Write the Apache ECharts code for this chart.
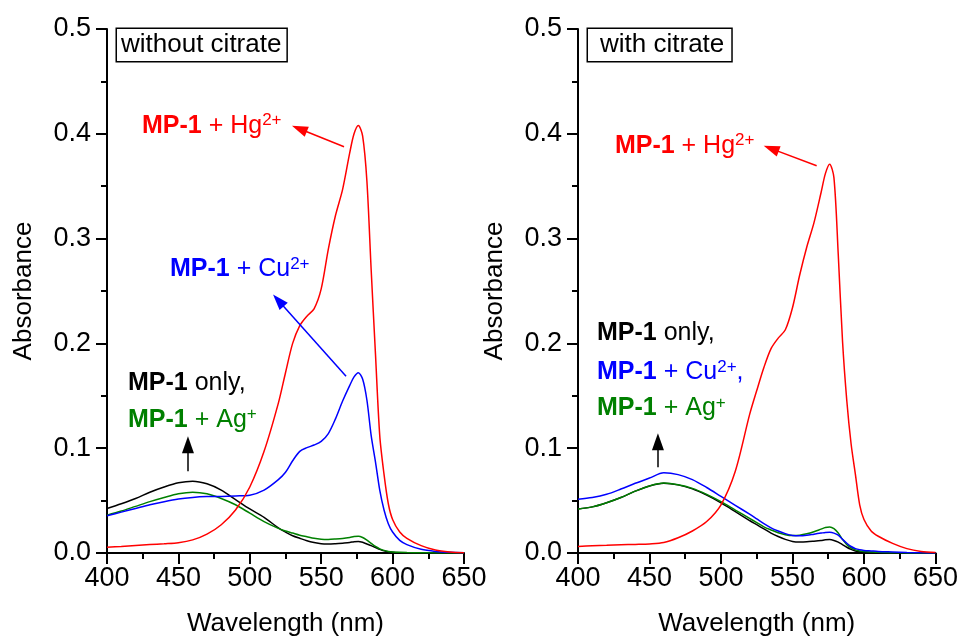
<!DOCTYPE html>
<html>
<head>
<meta charset="utf-8">
<script src="https://cdn.jsdelivr.net/npm/echarts@6/dist/echarts.min.js"></script>
<style>
  html, body { margin: 0; padding: 0; background: #fff; }
  #chart { width: 961px; height: 642px; }
</style>
</head>
<body>
<div id="chart"></div>
<script>
// Wavelength sampling grid (nm), shared by every spectrum
const wavelength = [400, 410, 420, 430, 440, 450, 460, 470, 480, 490, 500, 510, 520, 525, 530, 535, 540, 545, 550, 555, 560, 565, 570, 573, 576, 579, 582, 585, 588, 591, 594, 597, 600, 605, 610, 620, 630, 640, 650];

// Without citrate
const noCitOnly = [0.0425, 0.047, 0.052, 0.058, 0.063, 0.067, 0.0685, 0.066, 0.060, 0.051, 0.042, 0.034, 0.024, 0.020, 0.0165, 0.014, 0.0117, 0.0100, 0.0088, 0.0086, 0.0089, 0.0094, 0.0100, 0.0108, 0.0110, 0.0102, 0.0086, 0.0070, 0.0053, 0.0035, 0.0020, 0.0011, 0.0006, 0.0003, 0.0002, 0.0001, 0, 0, 0];
const noCitAg = [0.036, 0.040, 0.0445, 0.049, 0.053, 0.0565, 0.058, 0.0565, 0.052, 0.046, 0.038, 0.030, 0.0235, 0.021, 0.019, 0.017, 0.0155, 0.014, 0.0132, 0.013, 0.0133, 0.0138, 0.0148, 0.0157, 0.0160, 0.0148, 0.0122, 0.0092, 0.0063, 0.0040, 0.0025, 0.0015, 0.0010, 0.0006, 0.0004, 0.0002, 0.0001, 0, 0];
const noCitCu = [0.0356, 0.039, 0.0425, 0.046, 0.049, 0.0515, 0.053, 0.0538, 0.054, 0.0545, 0.0552, 0.060, 0.070, 0.077, 0.088, 0.097, 0.1005, 0.103, 0.1065, 0.114, 0.128, 0.145, 0.160, 0.168, 0.172, 0.166, 0.146, 0.112, 0.087, 0.060, 0.041, 0.028, 0.020, 0.012, 0.008, 0.0035, 0.0015, 0.0006, 0.0002];
const noCitHg = [0.0054, 0.0063, 0.0072, 0.008, 0.0088, 0.0098, 0.0125, 0.018, 0.027, 0.041, 0.063, 0.097, 0.143, 0.172, 0.200, 0.217, 0.226, 0.233, 0.252, 0.290, 0.322, 0.347, 0.382, 0.400, 0.408, 0.398, 0.355, 0.270, 0.190, 0.112, 0.075, 0.047, 0.032, 0.020, 0.014, 0.007, 0.0028, 0.001, 0.0003];

// With citrate
const citOnly = [0.042, 0.044, 0.048, 0.053, 0.059, 0.064, 0.0665, 0.065, 0.0612, 0.0552, 0.0478, 0.0395, 0.031, 0.027, 0.023, 0.019, 0.0158, 0.013, 0.011, 0.0105, 0.0107, 0.0113, 0.012, 0.0126, 0.0128, 0.012, 0.0104, 0.008, 0.0055, 0.0035, 0.002, 0.0012, 0.0008, 0.0005, 0.0003, 0.0001, 0, 0, 0];
const citAg = [0.042, 0.044, 0.048, 0.053, 0.059, 0.064, 0.0667, 0.0652, 0.0617, 0.056, 0.049, 0.041, 0.033, 0.029, 0.025, 0.022, 0.0193, 0.0175, 0.0167, 0.017, 0.0183, 0.0203, 0.0228, 0.0243, 0.0248, 0.0232, 0.019, 0.013, 0.008, 0.005, 0.003, 0.002, 0.0015, 0.001, 0.0006, 0.0003, 0.0001, 0, 0];
const citCu = [0.0514, 0.053, 0.056, 0.061, 0.0665, 0.0715, 0.0765, 0.0748, 0.070, 0.0625, 0.054, 0.0455, 0.037, 0.0325, 0.028, 0.024, 0.021, 0.0185, 0.0168, 0.0165, 0.017, 0.018, 0.019, 0.0196, 0.0197, 0.019, 0.017, 0.013, 0.0093, 0.0062, 0.0042, 0.0031, 0.0025, 0.002, 0.0015, 0.001, 0.0005, 0.0002, 0];
const citHg = [0.0063, 0.0068, 0.0073, 0.0078, 0.0082, 0.0087, 0.010, 0.0145, 0.021, 0.030, 0.046, 0.078, 0.132, 0.155, 0.177, 0.195, 0.205, 0.213, 0.234, 0.265, 0.292, 0.315, 0.344, 0.362, 0.371, 0.358, 0.285, 0.202, 0.145, 0.104, 0.075, 0.046, 0.032, 0.021, 0.016, 0.0092, 0.0042, 0.0015, 0.0005];

// Axis ticks
const xTicks = [400, 450, 500, 550, 600, 650];
const yTicks = [0.0, 0.1, 0.2, 0.3, 0.4, 0.5];

const FONT = '"Liberation Sans", Arial, sans-serif';
const RED = '#ff0000', BLUE = '#0000ff', GREEN = '#008000', BLACK = '#000000';

const pairs = (ys) => wavelength.map((x, i) => [x, ys[i]]);

// Pointer arrow: a thin line ending in a filled triangular head
function arrow(from, to, color, head) {
  return {
    silent: true,
    animation: false,
    symbol: ['none', 'triangle'],
    symbolSize: head,
    label: { show: false },
    emphasis: { disabled: true },
    lineStyle: { color: color, width: 1.5, type: 'solid' },
    itemStyle: { color: color },
    data: [[{ coord: from }, { coord: to, symbol: 'triangle', symbolSize: head }]]
  };
}

function line(name, ys, color, idx, markLine) {
  const s = {
    name: name,
    type: 'line',
    xAxisIndex: idx,
    yAxisIndex: idx,
    data: pairs(ys),
    smooth: 0.3,
    showSymbol: false,
    symbol: 'none',
    lineStyle: { color: color, width: 1.5 },
    itemStyle: { color: color },
    animation: false,
    silent: true
  };
  if (markLine) s.markLine = markLine;
  return s;
}

function xAxis(idx) {
  return {
    gridIndex: idx,
    type: 'value',
    min: xTicks[0],
    max: xTicks[xTicks.length - 1],
    interval: 50,
    name: 'Wavelength (nm)',
    nameLocation: 'middle',
    nameGap: 58,
    nameTextStyle: { fontFamily: FONT, fontSize: 26, color: '#000' },
    axisLine: { show: true, onZero: false, lineStyle: { color: '#000', width: 2 } },
    axisTick: { show: true, length: 11, lineStyle: { color: '#000', width: 2 } },
    minorTick: { show: true, splitNumber: 2, length: 6, lineStyle: { color: '#000', width: 2 } },
    axisLabel: { fontFamily: FONT, fontSize: 27, color: '#000', margin: 12 },
    splitLine: { show: false }
  };
}

function yAxis(idx) {
  return {
    gridIndex: idx,
    type: 'value',
    min: yTicks[0],
    max: yTicks[yTicks.length - 1],
    interval: 0.1,
    name: 'Absorbance',
    nameLocation: 'middle',
    nameGap: 70,
    nameTextStyle: { fontFamily: FONT, fontSize: 26, color: '#000' },
    axisLine: { show: true, onZero: false, lineStyle: { color: '#000', width: 2 } },
    axisTick: { show: true, length: 11, lineStyle: { color: '#000', width: 2 } },
    minorTick: { show: true, splitNumber: 2, length: 6, lineStyle: { color: '#000', width: 2 } },
    axisLabel: { fontFamily: FONT, fontSize: 27, color: '#000', margin: 16, formatter: (v) => v.toFixed(1) },
    splitLine: { show: false }
  };
}

const chart = echarts.init(document.getElementById('chart'), null, { renderer: 'canvas' });

chart.setOption({
  backgroundColor: '#fff',
  animation: false,
  grid: [
    { left: 107, top: 29, width: 357, height: 525 },
    { left: 578, top: 29, width: 358, height: 525 }
  ],
  xAxis: [xAxis(0), xAxis(1)],
  yAxis: [yAxis(0), yAxis(1)],
  series: [
    line('MP-1 only', noCitOnly, BLACK, 0, arrow([456.7, 0.078], [456.7, 0.1033], BLACK, [12, 17])),
    line('MP-1 + Ag+', noCitAg, GREEN, 0),
    line('MP-1 + Cu2+', noCitCu, BLUE, 0, arrow([567.4, 0.1686], [520.0, 0.241], BLUE, [11, 16])),
    line('MP-1 + Hg2+', noCitHg, RED, 0, arrow([566, 0.3876], [534.7, 0.4048], RED, [11, 16])),
    line('MP-1 only', citOnly, BLACK, 1, arrow([455.9, 0.0819], [455.9, 0.1062], BLACK, [12, 17])),
    line('MP-1 + Ag+', citAg, GREEN, 1),
    line('MP-1 + Cu2+', citCu, BLUE, 1),
    line('MP-1 + Hg2+', citHg, RED, 1, arrow([566.9, 0.3695], [535.1, 0.3859], RED, [11, 16]))
  ]
});

// Text annotations, anchored in data coordinates of each panel
const rich = (color) => ({
  b: { fontFamily: FONT, fontSize: 25, fontWeight: 'bold', fill: color, color: color, lineHeight: 28 },
  n: { fontFamily: FONT, fontSize: 25, fill: color, color: color, lineHeight: 28 },
  sup: { fontFamily: FONT, fontSize: 17, fill: color, color: color, lineHeight: 17, verticalAlign: 'top' }
});

const notes = [
  { grid: 0, at: [424.5, 0.4076], text: '{b|MP-1}{n| + Hg}{sup|2+}', color: RED },
  { grid: 0, at: [444.1, 0.2705], text: '{b|MP-1}{n| + Cu}{sup|2+}', color: BLUE },
  { grid: 0, at: [414.7, 0.162], text: '{b|MP-1}{n| only,}', color: BLACK },
  { grid: 0, at: [414.7, 0.1267], text: '{b|MP-1}{n| + Ag}{sup|+}', color: GREEN },
  { grid: 1, at: [425.8, 0.3886], text: '{b|MP-1}{n| + Hg}{sup|2+}', color: RED },
  { grid: 1, at: [413.3, 0.2095], text: '{b|MP-1}{n| only,}', color: BLACK },
  { grid: 1, at: [413.3, 0.1724], text: '{b|MP-1}{n| + Cu}{sup|2+}{n|,}', color: BLUE },
  { grid: 1, at: [413.3, 0.138], text: '{b|MP-1}{n| + Ag}{sup|+}', color: GREEN }
];

const boxes = [
  { grid: 0, at: [407, 0.5], text: 'without citrate', pad: [3, 5, 3, 4] },
  { grid: 1, at: [407, 0.5], text: 'with citrate', pad: [3, 7, 3, 12] }
];

const graphic = [];
notes.forEach((n) => {
  const p = chart.convertToPixel({ gridIndex: n.grid }, n.at);
  graphic.push({
    type: 'text',
    x: p[0],
    y: p[1],
    silent: true,
    style: {
      text: n.text,
      rich: rich(n.color),
      fill: n.color,
      font: '25px ' + FONT,
      align: 'left',
      verticalAlign: 'middle'
    }
  });
});
boxes.forEach((b) => {
  const p = chart.convertToPixel({ gridIndex: b.grid }, b.at);
  graphic.push({
    type: 'text',
    x: p[0],
    y: p[1],
    silent: true,
    style: {
      text: b.text,
      fill: '#000',
      font: '26px ' + FONT,
      align: 'left',
      verticalAlign: 'top',
      backgroundColor: '#fff',
      borderColor: '#000',
      borderWidth: 1.5,
      padding: b.pad
    }
  });
});
chart.setOption({ graphic: graphic });
</script>
</body>
</html>
